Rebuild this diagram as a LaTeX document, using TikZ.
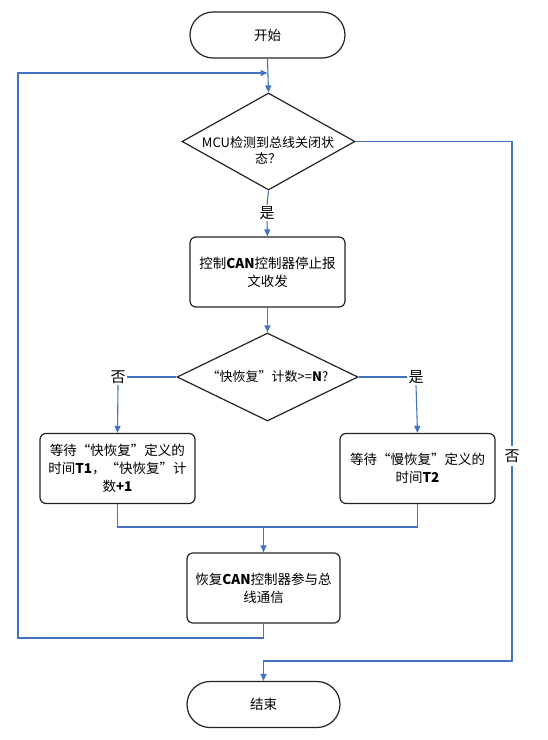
\documentclass[tikz,border=0pt]{standalone}
\usepackage{fontspec}
\setmainfont{Noto Sans CJK SC}
\usetikzlibrary{arrows.meta,shapes.geometric}
\definecolor{conn}{RGB}{68,114,196}
\definecolor{bord}{RGB}{35,35,35}
\tikzset{
  term/.style={draw=bord,line width=1.2pt,rounded corners=23pt,minimum width=#1,minimum height=46pt,inner sep=0pt,font=\fontsize{13.5}{16}\selectfont},
  proc/.style={draw=bord,line width=1.2pt,rounded corners=6pt,minimum width=155pt,minimum height=70pt,inner sep=0pt,align=center,font=\fontsize{13.5}{18}\selectfont},
  dec/.style={draw=bord,line width=1.2pt,diamond,inner sep=0pt},
  dtext/.style={align=center,inner sep=0pt,font=\fontsize{13}{16}\selectfont},
  lbl/.style={inner sep=1.5pt,font=\fontsize{15}{16}\selectfont},
  link/.style={draw=conn,line width=1.1pt},
  arr/.style={link,-{Triangle[length=7pt,width=6pt]}}
}
\begin{document}
\begin{tikzpicture}[x=1pt,y=-1pt]
\useasboundingbox (0,0) rectangle (548,740);
% nodes
\node[term=155pt] (start) at (267.5,35) {开始};
\node[dec,minimum width=173pt,minimum height=97pt] (d1) at (268.5,141.5) {};
\node[dtext] (d1t) at (268,150) {MCU检测到总线关闭状\\态？};
\node[lbl] (yes1) at (267,213) {是};
\node[proc] (box2) at (267.5,272) {控制\textbf{CAN}控制器停止报\\文收发};
\node[dec,minimum width=181pt,minimum height=88pt] (d2) at (267.5,377) {};
\node[dtext] (d2t) at (267.5,377) {“快恢复”计数>=\textbf{N}?};
\node[lbl] (no2) at (118,377) {否};
\node[lbl] (yes2) at (416,377) {是};
\node[proc] (lbox) at (117.5,468.5) {等待“快恢复”定义的\\时间\textbf{T1}，“快恢复”计\\数\textbf{+1}};
\node[proc] (rbox) at (417.5,468.5) {等待“慢恢复”定义的\\时间\textbf{T2}};
\node[proc,minimum width=153pt] (rec) at (263.5,588) {恢复\textbf{CAN}控制器参与总\\线通信};
\node[term=153pt] (end) at (263.5,704.5) {结束};
\node[lbl,inner sep=3pt] (no1) at (512,456) {否};
% coordinates
\coordinate (loopa) at (263.5,638);
\coordinate (loopb) at (18,638);
\coordinate (loopc) at (18,73);
\coordinate (loopd) at (267.5,73);
\coordinate (mergeL) at (117.5,527);
\coordinate (mergeR) at (417.5,527);
\coordinate (mergeC) at (263.5,527);
\coordinate (e1) at (263.5,661);
% connectors
\draw[arr] (start.south) -- (d1.north);
\draw[arr] (rec.south) -- (loopa) -- (loopb) -- (loopc) -- (loopd);
\draw[link] (d1.south) -- (yes1.north);
\draw[arr] (yes1.south) -- (box2.north);
\draw[arr] (box2.south) -- (d2.north);
\draw[link] (d2.west) -- (no2.east);
\draw[arr] (no2.south) -- (lbox.north);
\draw[link] (d2.east) -- (yes2.west);
\draw[arr] (yes2.south) -- (rbox.north);
\draw[link] (lbox.south) -- (mergeL) -- (mergeR) -- (rbox.south);
\draw[arr] (mergeC) -- (rec.north);
\draw[link] (d1.east) -| (no1.north);
\draw[arr] (no1.south) |- (e1) -- (end.north);
\end{tikzpicture}
\end{document}
